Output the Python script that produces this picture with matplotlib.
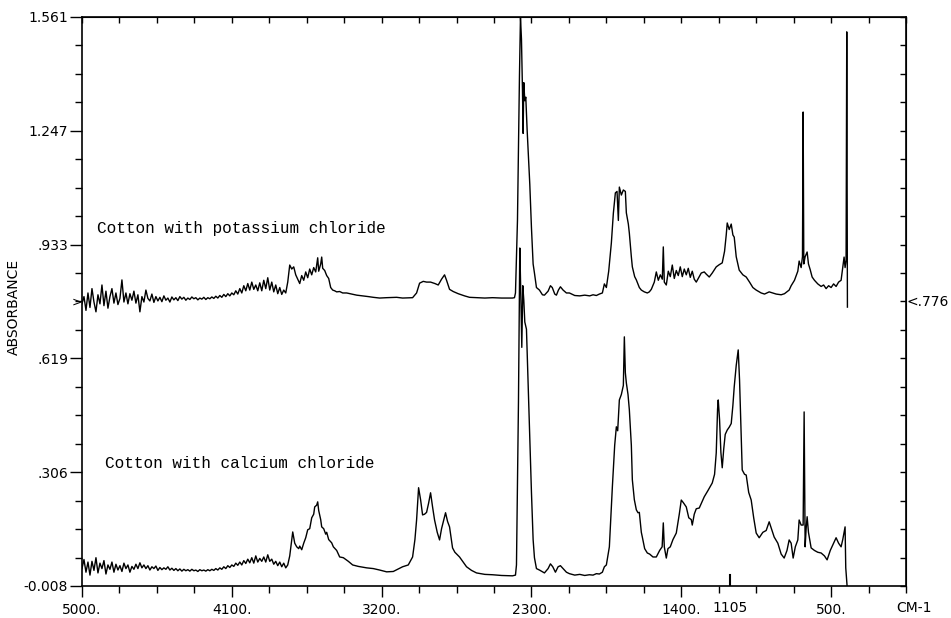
import numpy as np
import matplotlib
matplotlib.use("Agg")
import matplotlib.pyplot as plt
import matplotlib.transforms as mtransforms

# wavenumber (cm-1) / absorbance
kcl_wn = [5000, 4988, 4976, 4964, 4952, 4940, 4928, 4916, 4904, 4892, 4880, 4868, 4856, 4844,
          4832, 4820, 4808, 4796, 4784, 4772, 4760, 4748, 4736, 4724, 4712, 4700, 4688, 4676,
          4664, 4652, 4640, 4628, 4616, 4604, 4592, 4580, 4568, 4556, 4544, 4532, 4520, 4508,
          4496, 4484, 4472, 4460, 4448, 4436, 4424, 4412, 4400, 4388, 4376, 4364, 4352, 4340,
          4328, 4316, 4304, 4292, 4280, 4268, 4256, 4244, 4232, 4220, 4208, 4196, 4184, 4172,
          4160, 4148, 4136, 4124, 4112, 4100, 4088, 4076, 4064, 4052, 4040, 4028, 4016, 4004,
          3992, 3980, 3968, 3956, 3944, 3932, 3920, 3908, 3896, 3884, 3872, 3860, 3848, 3836,
          3824, 3812, 3800, 3788, 3776, 3764, 3752, 3740, 3728, 3716, 3704, 3692, 3680, 3668,
          3656, 3644, 3632, 3620, 3608, 3596, 3584, 3578, 3566, 3560, 3554, 3542, 3530, 3518,
          3506, 3494, 3482, 3470, 3452, 3434, 3410, 3380, 3350, 3314, 3280, 3250, 3212, 3170,
          3110, 3074, 3014, 2990, 2972, 2950, 2930, 2906, 2880, 2860, 2840, 2822, 2810, 2792,
          2770, 2740, 2702, 2672, 2630, 2580, 2534, 2480, 2414, 2402, 2396, 2384, 2372, 2366,
          2360, 2354, 2350, 2346, 2340, 2334, 2326, 2310, 2300, 2290, 2282, 2270, 2252, 2234,
          2222, 2200, 2186, 2175, 2160, 2150, 2138, 2126, 2110, 2090, 2072, 2040, 2010, 1980,
          1950, 1930, 1910, 1892, 1874, 1862, 1850, 1836, 1820, 1808, 1796, 1786, 1778, 1772,
          1760, 1748, 1736, 1730, 1718, 1712, 1700, 1694, 1680, 1670, 1652, 1640, 1622, 1604,
          1592, 1580, 1562, 1550, 1538, 1526, 1514, 1508, 1502, 1490, 1478, 1466, 1454, 1442,
          1430, 1418, 1406, 1394, 1382, 1370, 1358, 1346, 1334, 1322, 1310, 1292, 1280, 1262,
          1250, 1232, 1214, 1190, 1172, 1154, 1140, 1130, 1124, 1112, 1100, 1090, 1082, 1070,
          1052, 1030, 1010, 990, 970, 950, 920, 900, 872, 850, 830, 800, 780, 752, 740, 720,
          700, 692, 680, 672, 668, 664, 656, 644, 636, 626, 614, 600, 580, 560, 545, 530, 515,
          500, 485, 470, 455, 440, 430, 422, 416, 410, 406, 402]
kcl_abs = [0.770, 0.790, 0.752, 0.800, 0.760, 0.812, 0.775, 0.748, 0.795, 0.770, 0.822, 0.765, 0.805, 0.758,
           0.790, 0.812, 0.772, 0.800, 0.768, 0.785, 0.836, 0.775, 0.800, 0.770, 0.798, 0.780, 0.805, 0.772,
           0.795, 0.748, 0.790, 0.775, 0.808, 0.785, 0.778, 0.797, 0.774, 0.790, 0.778, 0.788, 0.776, 0.792,
           0.780, 0.786, 0.775, 0.789, 0.781, 0.787, 0.779, 0.790, 0.783, 0.788, 0.780, 0.786, 0.782, 0.789,
           0.784, 0.787, 0.781, 0.786, 0.783, 0.788, 0.782, 0.787, 0.784, 0.789, 0.785, 0.791, 0.786, 0.793,
           0.788, 0.796, 0.790, 0.798, 0.792, 0.800, 0.795, 0.806, 0.797, 0.812, 0.800, 0.820, 0.806, 0.826,
           0.808, 0.830, 0.810, 0.822, 0.806, 0.828, 0.806, 0.835, 0.812, 0.842, 0.808, 0.830, 0.803, 0.822,
           0.798, 0.815, 0.796, 0.808, 0.800, 0.830, 0.877, 0.866, 0.872, 0.850, 0.838, 0.826, 0.848, 0.835,
           0.858, 0.842, 0.866, 0.850, 0.870, 0.858, 0.897, 0.860, 0.880, 0.899, 0.868, 0.862, 0.848, 0.840,
           0.815, 0.808, 0.806, 0.803, 0.804, 0.800, 0.800, 0.797, 0.794, 0.792, 0.790, 0.788, 0.786, 0.787,
           0.788, 0.786, 0.787, 0.800, 0.827, 0.832, 0.830, 0.830, 0.826, 0.822, 0.838, 0.850, 0.835, 0.810,
           0.804, 0.798, 0.792, 0.788, 0.787, 0.786, 0.787, 0.786, 0.786, 0.787, 0.800, 1.000, 1.400, 1.561,
           1.500, 1.360, 1.240, 1.380, 1.330, 1.340, 1.250, 1.100, 0.980, 0.880, 0.855, 0.815, 0.808, 0.795,
           0.794, 0.805, 0.820, 0.815, 0.797, 0.794, 0.808, 0.817, 0.808, 0.800, 0.800, 0.793, 0.792, 0.794,
           0.792, 0.795, 0.793, 0.797, 0.800, 0.825, 0.815, 0.860, 0.938, 1.020, 1.076, 1.080, 1.000, 1.092,
           1.070, 1.084, 1.080, 1.021, 0.990, 0.965, 0.900, 0.872, 0.845, 0.836, 0.815, 0.808, 0.803, 0.800,
           0.803, 0.810, 0.830, 0.858, 0.835, 0.850, 0.838, 0.927, 0.830, 0.822, 0.860, 0.845, 0.877, 0.840,
           0.862, 0.848, 0.872, 0.845, 0.866, 0.850, 0.868, 0.843, 0.860, 0.838, 0.830, 0.845, 0.855, 0.858,
           0.852, 0.844, 0.855, 0.872, 0.878, 0.883, 0.915, 0.960, 0.993, 0.975, 0.990, 0.960, 0.954, 0.900,
           0.863, 0.850, 0.844, 0.830, 0.815, 0.808, 0.800, 0.797, 0.803, 0.800, 0.797, 0.795, 0.798, 0.808, 0.820, 0.835,
           0.860, 0.888, 0.870, 0.900, 1.299, 0.880, 0.900, 0.913, 0.880, 0.865, 0.844, 0.835, 0.825, 0.818, 0.822, 0.812, 0.820,
           0.815, 0.825, 0.818, 0.830, 0.835, 0.870, 0.899, 0.870, 0.890, 1.520, 0.761]

cacl_wn = [5000, 4988, 4976, 4964, 4952, 4940, 4928, 4916, 4904, 4892, 4880, 4868, 4856, 4844,
           4832, 4820, 4808, 4796, 4784, 4772, 4760, 4748, 4736, 4724, 4712, 4700, 4688, 4676,
           4664, 4652, 4640, 4628, 4616, 4604, 4592, 4580, 4568, 4556, 4544, 4532, 4520, 4508,
           4496, 4484, 4472, 4460, 4448, 4436, 4424, 4412, 4400, 4388, 4376, 4364, 4352, 4340,
           4328, 4316, 4304, 4292, 4280, 4268, 4256, 4244, 4232, 4220, 4208, 4196, 4184, 4172,
           4160, 4148, 4136, 4124, 4112, 4100, 4088, 4076, 4064, 4052, 4040, 4028, 4016, 4004,
           3992, 3980, 3968, 3956, 3944, 3932, 3920, 3908, 3896, 3884, 3872, 3860, 3848, 3836,
           3824, 3812, 3800, 3788, 3776, 3764, 3752, 3740, 3734, 3722, 3710, 3698, 3692, 3680,
           3668, 3656, 3644, 3632, 3620, 3608, 3602, 3590, 3584, 3578, 3566, 3560, 3548, 3536,
           3530, 3518, 3500, 3490, 3470, 3452, 3430, 3400, 3374, 3340, 3290, 3250, 3212, 3170,
           3130, 3074, 3040, 3014, 3000, 2990, 2978, 2966, 2954, 2942, 2930, 2918, 2906, 2894,
           2882, 2866, 2852, 2840, 2816, 2804, 2792, 2774, 2760, 2732, 2690, 2660, 2630, 2580,
           2534, 2480, 2414, 2396, 2390, 2378, 2370, 2364, 2358, 2352, 2346, 2340, 2330, 2320,
           2310, 2300, 2290, 2282, 2270, 2252, 2222, 2200, 2186, 2172, 2156, 2140, 2126, 2110,
           2090, 2072, 2040, 2010, 1980, 1952, 1930, 1910, 1892, 1874, 1862, 1850, 1832, 1814,
           1800, 1790, 1782, 1772, 1760, 1754, 1748, 1742, 1736, 1730, 1720, 1712, 1700, 1694,
           1682, 1670, 1660, 1652, 1640, 1634, 1620, 1604, 1590, 1570, 1550, 1530, 1515, 1508,
           1502, 1490, 1480, 1466, 1450, 1430, 1412, 1400, 1388, 1370, 1355, 1340, 1334, 1322,
           1310, 1292, 1275, 1262, 1240, 1214, 1200, 1190, 1182, 1178, 1170, 1162, 1154, 1145,
           1136, 1124, 1112, 1100, 1090, 1082, 1070, 1058, 1050, 1040, 1034, 1020, 1010, 995,
           980, 965, 950, 932, 910, 890, 872, 855, 842, 820, 800, 782, 765, 752, 740, 728, 715,
           700, 692, 680, 668, 662, 656, 650, 644, 636, 620, 600, 580, 560, 540, 524, 505, 490,
           470, 455, 440, 430, 416, 412, 404]
cacl_abs = [0.040, 0.065, 0.030, 0.058, 0.022, 0.060, 0.035, 0.070, 0.028, 0.055, 0.040, 0.062, 0.025, 0.050,
            0.038, 0.058, 0.030, 0.052, 0.036, 0.048, 0.032, 0.055, 0.040, 0.050, 0.030, 0.046, 0.038, 0.052,
            0.040, 0.056, 0.042, 0.050, 0.040, 0.048, 0.036, 0.045, 0.040, 0.047, 0.035, 0.043, 0.037, 0.042,
            0.038, 0.045, 0.036, 0.041, 0.035, 0.040, 0.034, 0.039, 0.033, 0.038, 0.034, 0.037, 0.033, 0.038,
            0.034, 0.036, 0.032, 0.037, 0.034, 0.036, 0.033, 0.037, 0.034, 0.038, 0.035, 0.040, 0.036, 0.042,
            0.038, 0.045, 0.040, 0.048, 0.043, 0.050, 0.046, 0.055, 0.049, 0.058, 0.050, 0.062, 0.054, 0.066,
            0.056, 0.070, 0.055, 0.075, 0.058, 0.068, 0.060, 0.072, 0.058, 0.078, 0.060, 0.066, 0.052, 0.060,
            0.048, 0.058, 0.045, 0.055, 0.042, 0.050, 0.075, 0.120, 0.141, 0.110, 0.100, 0.095, 0.102, 0.092,
            0.110, 0.125, 0.147, 0.150, 0.180, 0.190, 0.210, 0.215, 0.224, 0.200, 0.175, 0.155, 0.150, 0.135,
            0.140, 0.120, 0.111, 0.100, 0.090, 0.072, 0.070, 0.060, 0.050, 0.046, 0.042, 0.040, 0.036, 0.031,
            0.032, 0.045, 0.050, 0.072, 0.120, 0.174, 0.263, 0.230, 0.188, 0.190, 0.195, 0.220, 0.249, 0.210,
            0.174, 0.140, 0.119, 0.150, 0.194, 0.170, 0.155, 0.097, 0.085, 0.072, 0.045, 0.035, 0.028, 0.024,
            0.023, 0.021, 0.020, 0.022, 0.050, 0.500, 0.924, 0.800, 0.650, 0.820, 0.780, 0.720, 0.700, 0.550,
            0.400, 0.250, 0.120, 0.070, 0.040, 0.036, 0.028, 0.040, 0.053, 0.045, 0.030, 0.045, 0.048, 0.040,
            0.030, 0.026, 0.022, 0.024, 0.021, 0.023, 0.022, 0.026, 0.025, 0.030, 0.045, 0.050, 0.100, 0.265,
            0.380, 0.431, 0.420, 0.505, 0.520, 0.533, 0.545, 0.679, 0.580, 0.552, 0.520, 0.478, 0.380, 0.285,
            0.230, 0.202, 0.194, 0.195, 0.140, 0.127, 0.095, 0.083, 0.080, 0.072, 0.072, 0.090, 0.100, 0.166,
            0.100, 0.069, 0.095, 0.100, 0.120, 0.138, 0.190, 0.229, 0.222, 0.210, 0.180, 0.175, 0.160, 0.190,
            0.205, 0.207, 0.225, 0.238, 0.255, 0.276, 0.300, 0.359, 0.480, 0.505, 0.450, 0.360, 0.318, 0.370,
            0.410, 0.422, 0.430, 0.440, 0.490, 0.541, 0.600, 0.643, 0.560, 0.400, 0.312, 0.300, 0.298, 0.250,
            0.229, 0.180, 0.138, 0.125, 0.140, 0.145, 0.169, 0.145, 0.127, 0.110, 0.080, 0.069, 0.090, 0.119, 0.110, 0.069, 0.100,
            0.119, 0.174, 0.160, 0.160, 0.472, 0.100, 0.150, 0.183, 0.140, 0.097, 0.090, 0.085, 0.083, 0.075, 0.064, 0.090, 0.105,
            0.125, 0.110, 0.100, 0.120, 0.155, 0.042, -0.008]

x_major = [5000, 4100, 3200, 2300, 1400, 500]
x_major_labels = ["5000.", "4100.", "3200.", "2300.", "1400.", "500."]
y_major = [-0.008, 0.306, 0.619, 0.933, 1.247, 1.561]
y_major_labels = ["-0.008", ".306", ".619", ".933", "1.247", "1.561"]
offset_level = 0.776
marker_wn = 1105

plot_font = ["Liberation Sans Narrow", "DejaVu Sans"]
mono_font = ["Liberation Mono", "DejaVu Sans Mono"]

fig = plt.figure(figsize=(9.51, 6.18), dpi=100)
ax = fig.add_axes([0.0862, 0.0518, 0.8665, 0.9207])

ax.plot(kcl_wn, kcl_abs, color="black", lw=1.0)
ax.plot(cacl_wn, cacl_abs, color="black", lw=1.0)

ax.set_xlim(5000, 50)
ax.set_ylim(-0.008, 1.561)

for s in ax.spines.values():
    s.set_linewidth(1.2)

ax.set_xticks(x_major)
ax.set_xticklabels(x_major_labels, family=plot_font, fontsize=10)
ax.set_xticks(np.arange(5000, 40, -225), minor=True)
ax.set_yticks(np.linspace(-0.008, 1.561, 6))
ax.set_yticklabels(y_major_labels, family=plot_font, fontsize=10)
ax.set_yticks(np.linspace(-0.008, 1.561, 21), minor=True)
ax.tick_params(axis="x", which="major", direction="out", length=8, width=1.0, pad=4)
ax.tick_params(axis="x", which="minor", direction="out", length=5, width=1.0)
ax.tick_params(axis="y", which="major", direction="out", length=9, width=1.0, pad=1)
ax.tick_params(axis="y", which="minor", direction="out", length=5, width=1.0)

# inward ticks on top and right, as on the plotter output
top = ax.secondary_xaxis("top")
top.set_xticks(np.arange(5000, 40, -225))
top.set_xticklabels([])
top.tick_params(direction="in", length=4, width=1.0)
right = ax.secondary_yaxis("right")
right.set_yticks(np.linspace(-0.008, 1.561, 21))
right.set_yticklabels([])
right.tick_params(direction="in", length=4, width=1.0)

ax.set_ylabel("ABSORBANCE", family=plot_font, fontsize=10, labelpad=14)
ax.yaxis.set_label_coords(-0.074, 0.49)

# 1105 marker and unit label
ax.axvline(marker_wn, ymin=0, ymax=0.02, color="black", lw=1.5)
xt = mtransforms.blended_transform_factory(ax.transData, ax.transAxes)
ax.text(marker_wn, -0.026, "1105", transform=xt, ha="center", va="top",
        family=plot_font, fontsize=10)
ax.text(1.01, -0.026, "CM-1", transform=ax.transAxes, ha="center", va="top",
        family=plot_font, fontsize=10)

# baseline offset of the upper trace
yt = mtransforms.blended_transform_factory(ax.transAxes, ax.transData)
ax.text(1.001, offset_level, "<.776", transform=yt, ha="left", va="center",
        family=plot_font, fontsize=10)
ax.text(0.0, offset_level, ">", transform=yt, ha="right", va="center",
        family=plot_font, fontsize=9)

ax.text(4910, 0.979, "Cotton with potassium chloride", family=mono_font,
        fontsize=11.5, va="center", ha="left")
ax.text(4862, 0.331, "Cotton with calcium chloride", family=mono_font,
        fontsize=11.5, va="center", ha="left")

fig.savefig("out.png", dpi=100)
